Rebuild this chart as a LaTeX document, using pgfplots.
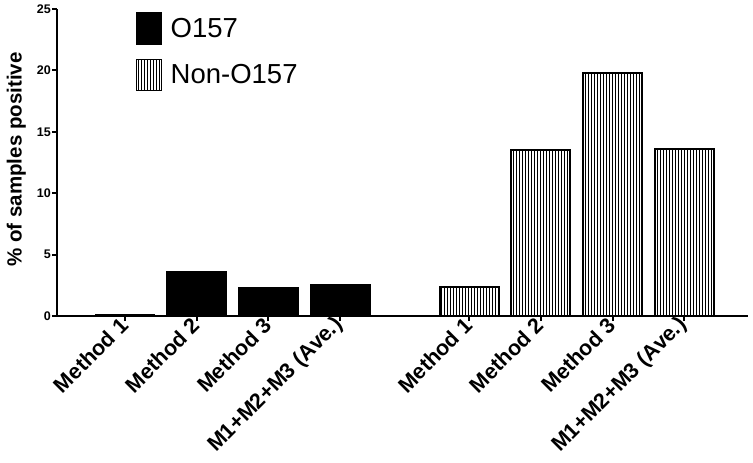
\documentclass[border=0pt]{standalone}
\usepackage{fontspec}
\setmainfont{Liberation Sans}
\usepackage{pgfplots}
\pgfplotsset{compat=1.18}
\usetikzlibrary{patterns}
\pgfplotsset{biglegend/.style={legend image code/.code={\draw[##1, line width=1.5pt] (0pt,-15.5pt) rectangle (25pt,15.5pt); \path (31pt,0pt);}}}
\begin{document}
\begin{tikzpicture}
\begin{axis}[
  at={(0,0)}, anchor=south west,
  scale only axis, width=691pt, height=307pt,
  xmin=-0.95, xmax=8.69, ymin=0, ymax=25,
  axis x line=bottom, axis y line=left,
  axis line style={-, line width=2.8pt},
  ytick={0,5,10,15,20,25},
  xtick={0,1,2,3,4.8,5.8,6.8,7.8},
  xticklabels={Method 1, Method 2, Method 3, M1+M2+M3 (Ave.), Method 1, Method 2, Method 3, M1+M2+M3 (Ave.)},
  tick align=outside, major tick length=5pt,
  tick style={line width=2pt, black},
  /pgf/number format/assume math mode=true,
  yticklabel style={font=\bfseries\fontsize{12.5}{14}\selectfont, inner sep=1pt},
  xticklabel style={font=\bfseries\fontsize{21.5}{25}\selectfont, rotate=45, anchor=east, inner sep=1pt},
  ylabel={\% of samples positive},
  ylabel style={font=\bfseries\fontsize{20.5}{24}\selectfont, at={(axis description cs:-0.059,0.51)}, anchor=center},
  legend style={at={(0.114,0.99)}, anchor=north west, draw=none, fill=none,
    font=\fontsize{27.5}{32}\selectfont, inner sep=0pt, row sep=14pt, legend cell align=left},
  clip=false,
]
\addplot[ybar, bar width=0.82, bar shift=0pt, draw=black, line width=2pt, fill=black, biglegend]
  coordinates {(0,0.05) (1,3.6) (2,2.3) (3,2.5)};
\addlegendentry{O157}
\addplot[ybar, bar width=0.82, bar shift=0pt, draw=black, line width=2pt, fill=white,
  postaction={pattern=vertical lines}, biglegend]
  coordinates {(4.8,2.4) (5.8,13.5) (6.8,19.8) (7.8,13.6)};
\addlegendentry{Non-O157}
\end{axis}
\pgfresetboundingbox
\useasboundingbox (-57pt,-147pt) rectangle (696pt,316pt);
\end{tikzpicture}
\end{document}
